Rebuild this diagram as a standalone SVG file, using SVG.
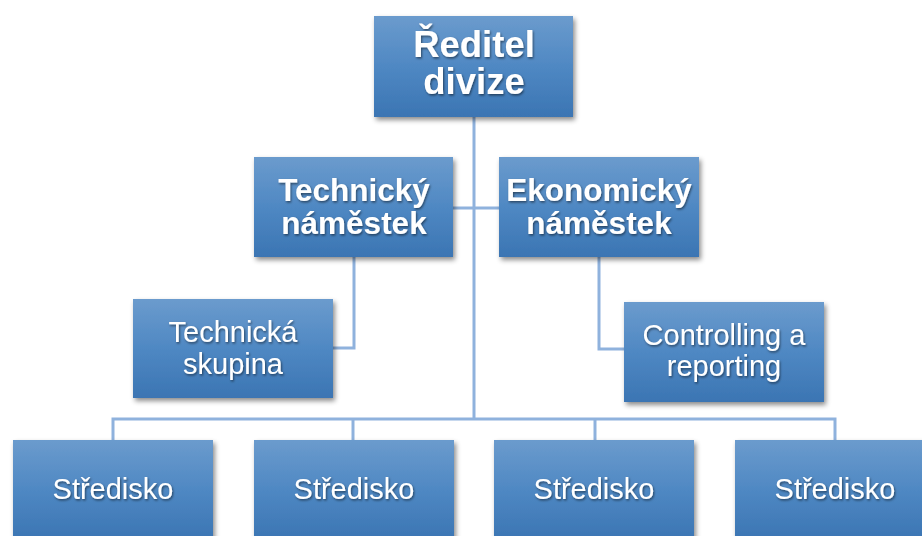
<svg xmlns="http://www.w3.org/2000/svg" width="922" height="536" viewBox="0 0 922 536">
  <defs>
    <linearGradient id="boxFill" x1="0" y1="0" x2="0" y2="1">
      <stop offset="0" stop-color="#6b9bcd"/>
      <stop offset="0.5" stop-color="#4f88c3"/>
      <stop offset="1" stop-color="#3b75b3"/>
    </linearGradient>
    <filter id="boxShadow" x="-10%" y="-10%" width="125%" height="130%">
      <feDropShadow dx="2" dy="3" stdDeviation="2.5" flood-color="#000" flood-opacity="0.45"/>
    </filter>
    <filter id="textShadow" x="-10%" y="-20%" width="120%" height="150%">
      <feDropShadow dx="1" dy="1.5" stdDeviation="1.3" flood-color="#000" flood-opacity="0.5"/>
    </filter>
  </defs>
  <style>
    .box { fill: url(#boxFill); filter: url(#boxShadow); }
    .lbl { fill: #ffffff; font-family: "Liberation Sans", Arial, sans-serif; text-anchor: middle; filter: url(#textShadow); }
    .b { font-weight: bold; }
    .conn { fill: none; stroke: #8fb2dd; stroke-width: 3; }
  </style>
  <rect width="922" height="536" fill="#ffffff"/>

  <g id="connectors">
    <path class="conn" d="M474 117 V419"/>
    <path class="conn" d="M453 208 H499"/>
    <path class="conn" d="M354 257 V348 H333"/>
    <path class="conn" d="M599 257 V349 H624"/>
    <path class="conn" d="M113 440 V419 H835 V440"/>
    <path class="conn" d="M353 419 V440"/>
    <path class="conn" d="M595 419 V440"/>
  </g>

  <g id="reditel">
    <rect class="box" x="374" y="16" width="199" height="101"/>
    <text class="lbl b" font-size="36.5" x="474" y="57">Ředitel</text>
    <text class="lbl b" font-size="36.5" x="474" y="94">divize</text>
  </g>

  <g id="technicky-namestek">
    <rect class="box" x="254" y="157" width="199" height="100"/>
    <text class="lbl b" font-size="31.5" x="354" y="201">Technický</text>
    <text class="lbl b" font-size="31.5" x="354" y="234">náměstek</text>
  </g>

  <g id="ekonomicky-namestek">
    <rect class="box" x="499" y="157" width="200" height="100"/>
    <text class="lbl b" font-size="31.5" x="599" y="201">Ekonomický</text>
    <text class="lbl b" font-size="31.5" x="599" y="234">náměstek</text>
  </g>

  <g id="technicka-skupina">
    <rect class="box" x="133" y="299" width="200" height="99"/>
    <text class="lbl" font-size="29" x="233" y="342">Technická</text>
    <text class="lbl" font-size="29" x="233" y="374">skupina</text>
  </g>

  <g id="controlling">
    <rect class="box" x="624" y="302" width="200" height="100"/>
    <text class="lbl" font-size="29" x="724" y="345">Controlling a</text>
    <text class="lbl" font-size="29" x="724" y="376">reporting</text>
  </g>

  <g id="stredisko-1">
    <rect class="box" x="13" y="440" width="200" height="100"/>
    <text class="lbl" font-size="29" x="113" y="499">Středisko</text>
  </g>

  <g id="stredisko-2">
    <rect class="box" x="254" y="440" width="200" height="100"/>
    <text class="lbl" font-size="29" x="354" y="499">Středisko</text>
  </g>

  <g id="stredisko-3">
    <rect class="box" x="494" y="440" width="200" height="100"/>
    <text class="lbl" font-size="29" x="594" y="499">Středisko</text>
  </g>

  <g id="stredisko-4">
    <rect class="box" x="735" y="440" width="200" height="100"/>
    <text class="lbl" font-size="29" x="835" y="499">Středisko</text>
  </g>
</svg>
